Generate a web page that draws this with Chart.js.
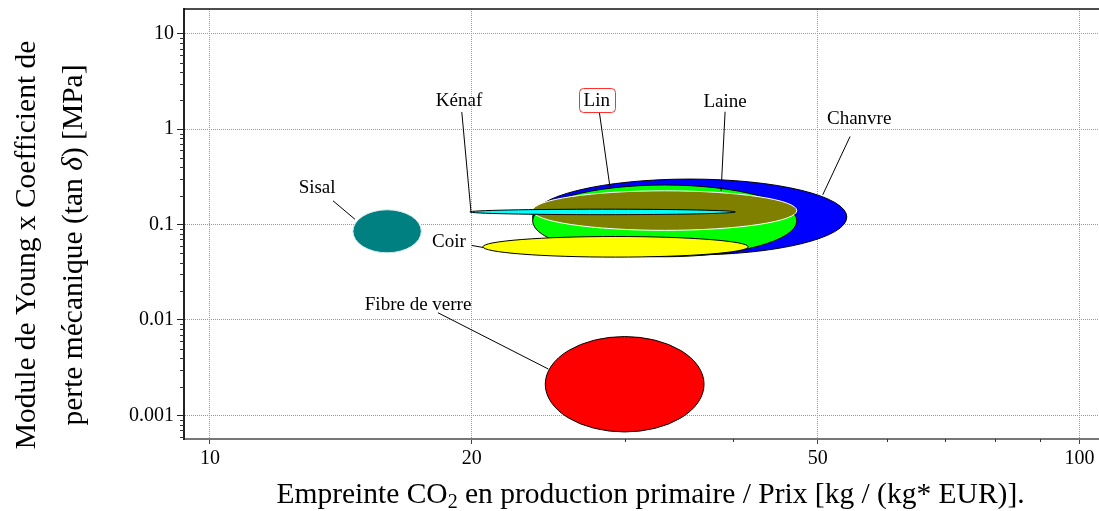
<!DOCTYPE html>
<html>
<head>
<meta charset="utf-8">
<script src="https://cdn.jsdelivr.net/npm/chart.js@4.4.0/dist/chart.umd.min.js"></script>
<style>
html, body { margin: 0; padding: 0; background: #fff; }
#chart_0 { display: block; }
</style>
</head>
<body>
<canvas id="chart_0" width="1099" height="511"></canvas>
<script>
// Fibres and the range each one covers (ellipse extents on the log-log chart)
const fibres = ['Chanvre', 'Lin', 'Laine', 'Coir', 'Kénaf', 'Sisal', 'Fibre de verre'];
const co2Min = [23.5, 23.5, 23.5, 20.6, 19.9, 14.6, 24.3];
const co2Max = [54.0, 47.3, 47.3, 41.6, 40.2, 17.5, 37.0];
const lossMin = [0.048, 0.046, 0.087, 0.0456, 0.127, 0.0506, 0.00067];
const lossMax = [0.30, 0.26, 0.226, 0.075, 0.145, 0.143, 0.0067];

// Tick values
const xMajorTicks = [10, 20, 50, 100];
const xMinorTicks = [30, 40, 60, 70, 80, 90];
const yMajorTicks = [0.001, 0.01, 0.1, 1, 10];
const yMinorTicks = [
    0.0006, 0.0007, 0.0008, 0.0009,
    0.002, 0.003, 0.004, 0.005, 0.006, 0.007, 0.008, 0.009,
    0.02, 0.03, 0.04, 0.05, 0.06, 0.07, 0.08, 0.09,
    0.2, 0.3, 0.4, 0.5, 0.6, 0.7, 0.8, 0.9,
    2, 3, 4, 5, 6, 7, 8, 9
];

// Styles
const fillColors = ['#0000ff', '#00ff00', '#808000', '#ffff00', '#00ffff', '#008080', '#ff0000'];
const edgeColors = ['#000000', '#000000', '#ffffff', '#000000', '#000000', '#d8ecec', '#000000'];

// Label placement, in data units (text centre, leader start, leader end)
const labelAt = [[55.8, 1.317], [27.85, 2.043], [39.12, 1.985], [18.83, 0.0676], [19.34, 2.033], [13.28, 0.249], [17.35, 0.01478]];
const leaderFrom = [[54.47, 0.8385], [28.04, 1.511], [39.12, 1.522], [20.0, 0.0604], [19.48, 1.511], [13.85, 0.1776], [18.29, 0.0119]];
const leaderTo = [[50.67, 0.2053], [28.84, 0.2472], [38.71, 0.2261], [20.62, 0.0575], [19.96, 0.1362], [14.68, 0.1137], [24.5, 0.003057]];

const FONT = "'Liberation Serif', 'Times New Roman', serif";
Chart.defaults.font.family = FONT;
Chart.defaults.color = '#000';

function tickList(major, minor) {
    return major.concat(minor).sort((a, b) => a - b).map(v => ({ value: v }));
}

// Ellipses drawn through the chart scales
const ellipsePlugin = {
    id: 'fibreEllipses',
    beforeDatasetsDraw(chart) {
        const { ctx, chartArea, scales: { x, y } } = chart;
        ctx.save();
        ctx.beginPath();
        ctx.rect(chartArea.left, chartArea.top, chartArea.width, chartArea.height);
        ctx.clip();
        fibres.forEach((name, i) => {
            const x1 = x.getPixelForValue(co2Min[i]);
            const x2 = x.getPixelForValue(co2Max[i]);
            const y1 = y.getPixelForValue(lossMax[i]);
            const y2 = y.getPixelForValue(lossMin[i]);
            ctx.beginPath();
            ctx.ellipse((x1 + x2) / 2, (y1 + y2) / 2, (x2 - x1) / 2, (y2 - y1) / 2, 0, 0, Math.PI * 2);
            ctx.fillStyle = fillColors[i];
            ctx.fill();
            ctx.lineWidth = 1;
            ctx.strokeStyle = edgeColors[i];
            ctx.stroke();
        });
        ctx.restore();
    }
};

// Labels, leader lines, minor ticks, frame and axis titles
const decorPlugin = {
    id: 'decor',
    afterDraw(chart) {
        const { ctx, chartArea, scales: { x, y } } = chart;
        ctx.save();

        // top frame line
        ctx.strokeStyle = '#111';
        ctx.lineWidth = 1.5;
        ctx.beginPath();
        ctx.moveTo(chartArea.left, chartArea.top);
        ctx.lineTo(chartArea.right, chartArea.top);
        ctx.stroke();

        // minor tick marks
        ctx.lineWidth = 1;
        ctx.strokeStyle = '#333';
        xMinorTicks.forEach(v => {
            const px = Math.round(x.getPixelForValue(v)) + 0.5;
            ctx.beginPath();
            ctx.moveTo(px, chartArea.bottom);
            ctx.lineTo(px, chartArea.bottom + 3);
            ctx.stroke();
        });
        yMinorTicks.forEach(v => {
            const py = Math.round(y.getPixelForValue(v)) + 0.5;
            ctx.beginPath();
            ctx.moveTo(chartArea.left - 4, py);
            ctx.lineTo(chartArea.left, py);
            ctx.stroke();
        });

        // leader lines
        ctx.strokeStyle = '#000';
        ctx.lineWidth = 1;
        fibres.forEach((name, i) => {
            ctx.beginPath();
            ctx.moveTo(x.getPixelForValue(leaderFrom[i][0]), y.getPixelForValue(leaderFrom[i][1]));
            ctx.lineTo(x.getPixelForValue(leaderTo[i][0]), y.getPixelForValue(leaderTo[i][1]));
            ctx.stroke();
        });

        // labels
        ctx.font = '19px ' + FONT;
        ctx.textAlign = 'center';
        ctx.textBaseline = 'middle';
        fibres.forEach((name, i) => {
            const lx = x.getPixelForValue(labelAt[i][0]);
            const ly = y.getPixelForValue(labelAt[i][1]);
            if (name === 'Lin') {
                const w = ctx.measureText(name).width + 10;
                ctx.fillStyle = '#fff';
                ctx.strokeStyle = '#ff3030';
                ctx.beginPath();
                ctx.roundRect(Math.round(lx - w / 2) + 0.5, Math.round(ly - 12) + 0.5, Math.round(w), 24, 4);
                ctx.fill();
                ctx.stroke();
            }
            ctx.fillStyle = '#000';
            ctx.fillText(name, lx, ly + 1);
        });

        // x axis title with subscript
        const big = '29.5px ' + FONT;
        const small = '20px ' + FONT;
        const xa = 'Empreinte CO', xs = '2', xb = ' en production primaire / Prix [kg / (kg* EUR)].';
        ctx.textBaseline = 'alphabetic';
        ctx.textAlign = 'left';
        ctx.font = big;
        const wa = ctx.measureText(xa).width, wb = ctx.measureText(xb).width;
        ctx.font = small;
        const ws = ctx.measureText(xs).width;
        let tx = (chartArea.left + chartArea.right) / 2 + 9 - (wa + ws + wb) / 2;
        const ty = chartArea.bottom + 64;
        ctx.font = big;
        ctx.fillText(xa, tx, ty);
        ctx.font = small;
        ctx.fillText(xs, tx + wa, ty + 5);
        ctx.font = big;
        ctx.fillText(xb, tx + wa + ws, ty);

        // y axis title, two lines, italic delta
        const yFont = '29.5px ' + FONT;
        const cy = (chartArea.top + chartArea.bottom) / 2 + 21;
        ctx.save();
        ctx.translate(35, cy);
        ctx.rotate(-Math.PI / 2);
        ctx.textAlign = 'center';
        ctx.font = yFont;
        ctx.fillText('Module de Young x Coefficient de', 0, 0);
        ctx.restore();

        ctx.save();
        ctx.translate(82, cy);
        ctx.rotate(-Math.PI / 2);
        ctx.textAlign = 'left';
        const la = 'perte mécanique (tan ', ld = 'δ', lb = ') [MPa]';
        const italic = 'italic 29.5px ' + FONT;
        ctx.font = yFont;
        const w1 = ctx.measureText(la).width, w3 = ctx.measureText(lb).width;
        ctx.font = italic;
        const w2 = ctx.measureText(ld).width;
        let sx = -(w1 + w2 + w3) / 2;
        ctx.font = yFont;
        ctx.fillText(la, sx, 0);
        ctx.font = italic;
        ctx.fillText(ld, sx + w1, 0);
        ctx.font = yFont;
        ctx.fillText(lb, sx + w1 + w2, 0);
        ctx.restore();

        ctx.restore();
    }
};

function createChart0() {
    const canvas = document.getElementById('chart_0');
    if (!canvas) {
        console.error('Canvas element with id "chart_0" not found');
        return;
    }

    new Chart(canvas.getContext('2d'), {
        type: 'scatter',
        data: { datasets: [] },
        options: {
            responsive: false,
            animation: false,
            layout: { padding: { top: 9, right: 0, bottom: 0, left: 0 } },
            plugins: {
                legend: { display: false },
                tooltip: { enabled: false }
            },
            scales: {
                x: {
                    type: 'logarithmic',
                    position: 'bottom',
                    min: 9.335,
                    max: 105.3,
                    afterBuildTicks: scale => { scale.ticks = tickList(xMajorTicks, xMinorTicks); },
                    afterFit: scale => {
                        scale.height = 72;
                        scale.paddingLeft = 0;
                        scale.paddingRight = 0;
                    },
                    ticks: {
                        autoSkip: false,
                        maxRotation: 0,
                        padding: 3,
                        font: { size: 20 },
                        callback: v => xMajorTicks.includes(v) ? String(v) : ''
                    },
                    grid: {
                        color: c => xMajorTicks.includes(c.tick && c.tick.value) ? '#999' : 'rgba(0,0,0,0)',
                        tickColor: c => xMajorTicks.includes(c.tick && c.tick.value) ? '#444' : 'rgba(0,0,0,0)',
                        tickLength: 5,
                        lineWidth: 1
                    },
                    border: { display: true, color: '#777', width: 2, dash: [1, 1] }
                },
                y: {
                    type: 'logarithmic',
                    position: 'left',
                    min: 0.000565,
                    max: 18.2,
                    afterBuildTicks: scale => { scale.ticks = tickList(yMajorTicks, yMinorTicks); },
                    afterFit: scale => {
                        scale.width = 184;
                        scale.paddingTop = 0;
                        scale.paddingBottom = 0;
                    },
                    ticks: {
                        autoSkip: false,
                        padding: 3,
                        font: { size: 20 },
                        callback: v => yMajorTicks.includes(v) ? String(v) : ''
                    },
                    grid: {
                        color: c => yMajorTicks.includes(c.tick && c.tick.value) ? '#999' : 'rgba(0,0,0,0)',
                        tickColor: c => yMajorTicks.includes(c.tick && c.tick.value) ? '#222' : 'rgba(0,0,0,0)',
                        tickLength: 7,
                        lineWidth: 1
                    },
                    border: { display: true, color: '#222', width: 2, dash: [1, 1] }
                }
            }
        },
        plugins: [ellipsePlugin, decorPlugin]
    });
}

document.addEventListener('DOMContentLoaded', function() {
    createChart0();
});
</script>
</body>
</html>
